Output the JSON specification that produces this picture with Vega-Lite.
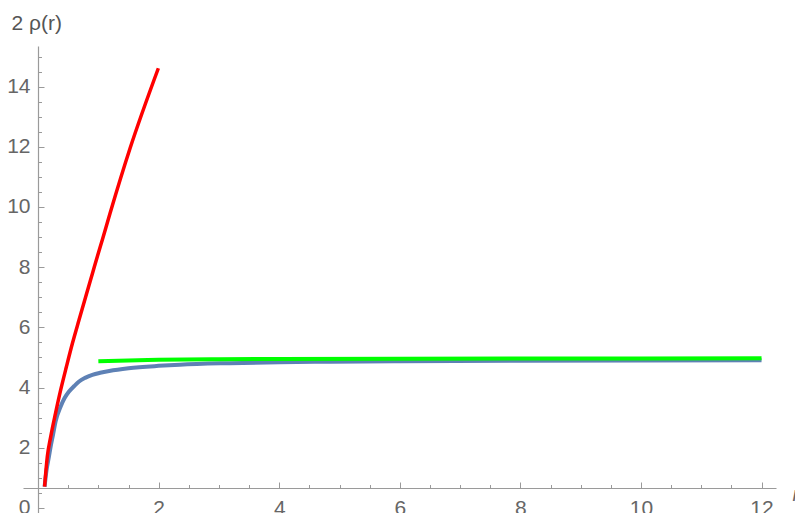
{
  "$schema": "https://vega.github.io/schema/vega-lite/v6.json",
  "autosize": {"type": "none"},
  "padding": {"left": 23, "top": 46, "right": 19, "bottom": 0},
  "width": 753,
  "height": 467,
  "background": "white",
  "config": {"view": {"stroke": null}},
  "data": {"values": [
    {"series": "blue", "r": 0.108, "v": 0.70},
    {"series": "blue", "r": 0.14, "v": 1.25},
    {"series": "blue", "r": 0.18, "v": 1.70},
    {"series": "blue", "r": 0.21, "v": 2.05},
    {"series": "blue", "r": 0.25, "v": 2.45},
    {"series": "blue", "r": 0.29, "v": 2.87},
    {"series": "blue", "r": 0.375, "v": 3.37},
    {"series": "blue", "r": 0.44, "v": 3.65},
    {"series": "blue", "r": 0.51, "v": 3.86},
    {"series": "blue", "r": 0.6, "v": 4.05},
    {"series": "blue", "r": 0.68, "v": 4.20},
    {"series": "blue", "r": 0.78, "v": 4.32},
    {"series": "blue", "r": 0.9, "v": 4.42},
    {"series": "blue", "r": 1.03, "v": 4.49},
    {"series": "blue", "r": 1.18, "v": 4.55},
    {"series": "blue", "r": 1.5, "v": 4.64},
    {"series": "blue", "r": 2.0, "v": 4.72},
    {"series": "blue", "r": 2.35, "v": 4.76},
    {"series": "blue", "r": 3.18, "v": 4.81},
    {"series": "blue", "r": 4.0, "v": 4.84},
    {"series": "blue", "r": 4.84, "v": 4.86},
    {"series": "blue", "r": 6.0, "v": 4.875},
    {"series": "blue", "r": 8.0, "v": 4.89},
    {"series": "blue", "r": 10.0, "v": 4.90},
    {"series": "blue", "r": 12.0, "v": 4.91},
    {"series": "green", "r": 1.0, "v": 4.87},
    {"series": "green", "r": 1.5, "v": 4.90},
    {"series": "green", "r": 2.0, "v": 4.92},
    {"series": "green", "r": 3.0, "v": 4.94},
    {"series": "green", "r": 4.0, "v": 4.95},
    {"series": "green", "r": 6.0, "v": 4.96},
    {"series": "green", "r": 8.0, "v": 4.965},
    {"series": "green", "r": 12.0, "v": 4.97},
    {"series": "red", "r": 0.108, "v": 0.71},
    {"series": "red", "r": 0.153, "v": 1.70},
    {"series": "red", "r": 0.21, "v": 2.37},
    {"series": "red", "r": 0.29, "v": 3.15},
    {"series": "red", "r": 0.375, "v": 3.92},
    {"series": "red", "r": 0.47, "v": 4.69},
    {"series": "red", "r": 0.57, "v": 5.47},
    {"series": "red", "r": 0.68, "v": 6.25},
    {"series": "red", "r": 0.79, "v": 7.02},
    {"series": "red", "r": 0.903, "v": 7.80},
    {"series": "red", "r": 0.987, "v": 8.38},
    {"series": "red", "r": 1.07, "v": 8.94},
    {"series": "red", "r": 1.194, "v": 9.79},
    {"series": "red", "r": 1.526, "v": 11.95},
    {"series": "red", "r": 1.995, "v": 14.61}
  ]},
  "encoding": {
    "x": {
      "field": "r", "type": "quantitative",
      "scale": {"domain": [-0.25, 12.24], "nice": false, "zero": false},
      "axis": {
        "orient": "bottom",
        "offset": -25,
        "values": [0.5, 1, 1.5, 2, 2.5, 3, 3.5, 4, 4.5, 5, 5.5, 6, 6.5, 7, 7.5, 8, 8.5, 9, 9.5, 10, 10.5, 11, 11.5, 12],
        "labelExpr": "datum.value % 2 === 0 ? format(datum.value, 'd') : ''",
        "labelOverlap": false,
        "labelFlush": false,
        "grid": false,
        "domainColor": "#9a9a9a",
        "domainWidth": 1.2,
        "tickColor": "#9a9a9a",
        "tickWidth": 1,
        "tickSize": {"condition": {"test": "datum.value % 2 === 0", "value": -6}, "value": -3.5},
        "labelPadding": 15,
        "labelFont": "Liberation Sans",
        "labelFontSize": 21,
        "labelColor": "#666666",
        "labelBaseline": "top",
        "title": "r",
        "titleFont": "Liberation Sans",
        "titleFontStyle": "italic",
        "titleFontWeight": "normal",
        "titleFontSize": 20,
        "titleColor": "#666666",
        "titleAnchor": "start",
        "titleAlign": "left",
        "titleBaseline": "middle",
        "titleX": 769,
        "titleY": 6
      }
    },
    "y": {
      "field": "v", "type": "quantitative",
      "scale": {"domain": [-0.17, 15.35], "nice": false, "zero": false},
      "axis": {
        "orient": "left",
        "offset": -15,
        "values": [0, 0.5, 1, 1.5, 2, 2.5, 3, 3.5, 4, 4.5, 5, 5.5, 6, 6.5, 7, 7.5, 8, 8.5, 9, 9.5, 10, 10.5, 11, 11.5, 12, 12.5, 13, 13.5, 14, 14.5, 15],
        "labelExpr": "datum.value % 2 === 0 ? format(datum.value, 'd') : ''",
        "labelOverlap": false,
        "labelFlush": false,
        "grid": false,
        "domainColor": "#9a9a9a",
        "domainWidth": 1.2,
        "tickColor": "#9a9a9a",
        "tickWidth": 1,
        "tickSize": {"condition": {"test": "datum.value % 2 === 0", "value": -6}, "value": -3.5},
        "labelPadding": 14,
        "labelFont": "Liberation Sans",
        "labelFontSize": 21,
        "labelColor": "#666666",
        "title": "2 ρ(r)",
        "titleFont": "Liberation Sans",
        "titleFontWeight": "normal",
        "titleFontSize": 21,
        "titleColor": "#555555",
        "titleAngle": 0,
        "titleAnchor": "start",
        "titleAlign": "left",
        "titleBaseline": "alphabetic",
        "titleX": -27,
        "titleY": -17
      }
    }
  },
  "layer": [
    {
      "transform": [{"filter": "datum.series === 'blue'"}],
      "mark": {"type": "line", "color": "#5E81B5", "strokeWidth": 4, "interpolate": "monotone"}
    },
    {
      "transform": [{"filter": "datum.series === 'green'"}],
      "mark": {"type": "line", "color": "#00FF00", "strokeWidth": 4, "interpolate": "monotone"}
    },
    {
      "transform": [{"filter": "datum.series === 'red'"}],
      "mark": {"type": "line", "color": "#FF0000", "strokeWidth": 3.5, "interpolate": "monotone"}
    }
  ]
}
